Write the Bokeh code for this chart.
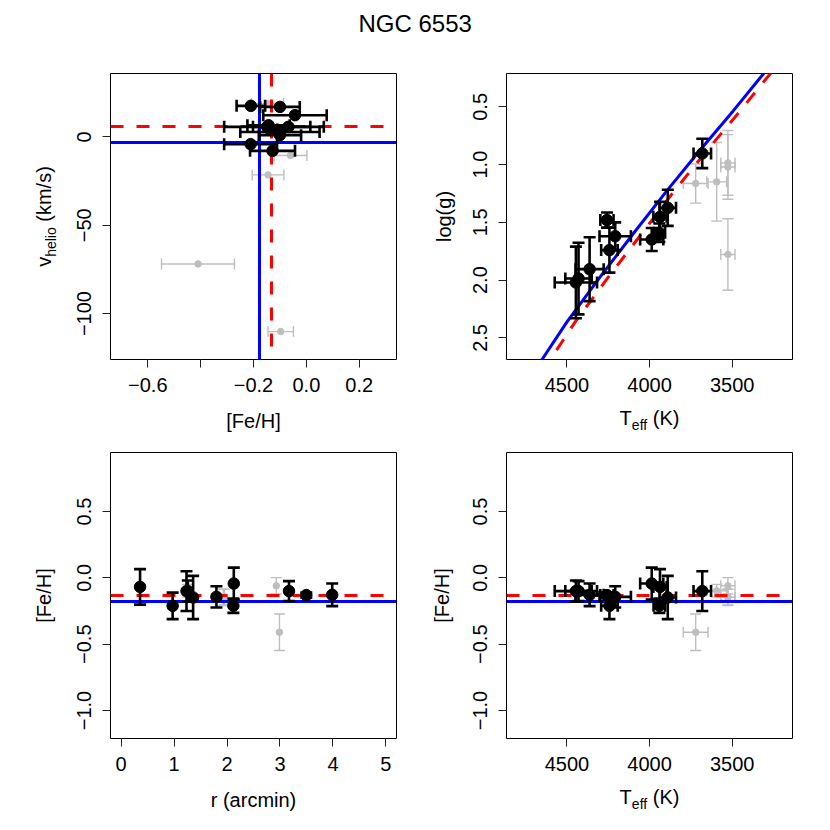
import math
from bokeh.plotting import figure
from bokeh.models import Range1d, FixedTicker, Label
from bokeh.layouts import column, row
from bokeh.embed import file_html
from bokeh.resources import INLINE

# ---------------- data ----------------
title_text = "NGC 6553"

# cluster members (black)
mem_teff = [3681, 3890, 3937, 3941, 3987, 4258, 4208, 4243, 4363, 4430, 4446]
mem_teff_err = [53, 50, 40, 35, 70, 40, 95, 50, 85, 80, 128]
mem_logg = [0.903, 1.374, 1.452, 1.59, 1.648, 1.48, 1.62, 1.74, 1.905, 1.986, 2.02]
mem_logg_err = [0.127, 0.156, 0.13, 0.08, 0.10, 0.065, 0.12, 0.195, 0.277, 0.31, 0.31]
mem_feh = [-0.10, -0.148, -0.068, -0.21, -0.043, -0.13, -0.143, -0.211, -0.128, -0.10, -0.10]
mem_feh_err = [0.15, 0.163, 0.134, 0.054, 0.12, 0.02, 0.08, 0.10, 0.085, 0.075, 0.08]
mem_vhelio = [2.8, 5.7, 5.7, 17.6, 12.3, 4.2, 6.6, -4.1, -7.9, 17.0, 1.0]
mem_r = [1.235, 1.36, 0.358, 2.12, 2.128, 3.497, 1.80, 0.973, 3.986, 3.17, 1.26]

# non-members (grey)
non_teff = [3721, 3526, 3526, 3594, 3526]
non_teff_err = [75, 43, 43, 60, 43]
non_logg = [1.163, 0.985, 1.02, 1.149, 1.778]
non_logg_err = [0.17, 0.28, 0.28, 0.34, 0.31]
non_feh = [-0.41, -0.06, -0.145, -0.097, -0.147]
non_feh_err = [0.138, 0.062, 0.06, 0.048, 0.061]
non_vhelio = [-71.9, -10.5, -21.5, -110.2, 18.9]
non_r = [2.99, 2.93, 1.95, 1.25, 1.93]

# isochrones
iso_blue_teff = [4700, 4651, 4500, 4299, 4098, 3896, 3695, 3494, 3313, 3250]
iso_blue_logg = [2.793, 2.687, 2.361, 1.972, 1.596, 1.227, 0.875, 0.535, 0.217, 0.106]
iso_red_teff = [4650, 4601, 4450, 4249, 4047, 3850, 3651, 3452, 3272, 3210]
iso_red_logg = [2.793, 2.687, 2.361, 1.972, 1.596, 1.227, 0.875, 0.535, 0.217, 0.107]

# reference values
feh_blue = -0.179
feh_red = -0.133
vhelio_blue = -3.2
vhelio_red = 5.7

# axis ticks
tl_xticks = [-0.6, -0.4, -0.2, 0.0, 0.2]
tl_xlabels = ["\u22120.6", "", "\u22120.2", "0.0", "0.2"]
tl_yticks = [0, -50, -100]
tl_ylabels = ["0", "\u221250", "\u2212100"]
teff_ticks = [4500, 4000, 3500]
teff_labels = ["4500", "4000", "3500"]
logg_ticks = [0.5, 1.0, 1.5, 2.0, 2.5]
logg_labels = ["0.5", "1.0", "1.5", "2.0", "2.5"]
r_ticks = [0, 1, 2, 3, 4, 5]
r_labels = ["0", "1", "2", "3", "4", "5"]
feh_ticks = [0.5, 0.0, -0.5, -1.0]
feh_labels = ["0.5", "0.0", "\u22120.5", "\u22121.0"]

# ---------------- style ----------------
FONT = "Liberation Sans"
FW = 286
FH = 286
GREY = "#BEBEBE"
BLUE = "#0000FF"
RED = "#FF0000"

AW = {"v": 500, "h": 556, "e": 556, "l": 222, "i": 222, "o": 556, " ": 278,
      "(": 333, ")": 333, "k": 500, "m": 833, "/": 278, "s": 500, "T": 611,
      "f": 278, "K": 667, "g": 556, "[": 278, "]": 278, "F": 611, "H": 722,
      "r": 333, "a": 556, "c": 500, "n": 556, "N": 722, "G": 778, "C": 722}
BASE_CORR = 0.34   # baseline -> middle of capitals (fraction of font size)


def tw(t, size):
    return sum(AW.get(c, 556) for c in t) * size / 1000.0


def strip(w, h, yh=None):
    # yh: height of the data frame (a strip sitting in a row of panels gets its
    # frame aligned with the panel frames)
    s = figure(width=w, height=h, x_range=Range1d(0, w),
               y_range=Range1d(0, yh if yh is not None else h),
               output_backend="svg", toolbar_location=None, min_border=0,
               x_axis_location=None, y_axis_location=None)
    s.grid.visible = False
    s.outline_line_color = None
    s.background_fill_color = "white"
    s.border_fill_color = "white"
    return s


def comp_text(s, pieces, c, base, vertical):
    """pieces: (text, size px, baseline shift px); c = centre along the text,
    base = baseline position across the text (strip pixels)."""
    total = sum(tw(t, z) for t, z, _ in pieces)
    pos = -total / 2.0
    for t, z, shift in pieces:
        lead = len(t) - len(t.lstrip(" "))
        pos += lead * 0.278 * z
        tt = t.lstrip(" ")
        w = tw(tt, z)
        mid = pos + w / 2.0
        corr = BASE_CORR * z
        if vertical:
            x, y, ang = base - shift - corr, c + mid, math.pi / 2
        else:
            x, y, ang = c + mid, base + shift + corr, 0
        s.add_layout(Label(x=x, y=y, text=tt, angle=ang, text_align="center",
                           text_baseline="middle", text_font=FONT,
                           text_font_size=f"{z}px", text_color="black"))
        pos += w


def make_panel(xr, yr, xt, xl, yt, yl, left, right, top, bottom):
    p = figure(width=left + FW + right, height=top + FH + bottom,
               x_range=Range1d(*xr), y_range=Range1d(*yr),
               output_backend="svg", toolbar_location=None,
               min_border_left=left, min_border_right=right,
               min_border_top=top, min_border_bottom=bottom)
    p.grid.visible = False
    p.outline_line_color = "black"
    p.outline_line_width = 1
    p.background_fill_color = "white"
    p.border_fill_color = "white"
    p.xaxis.ticker = FixedTicker(ticks=xt)
    p.xaxis.major_label_overrides = {t: l for t, l in zip(xt, xl)}
    p.yaxis.ticker = FixedTicker(ticks=yt)
    p.yaxis.major_label_overrides = {t: l for t, l in zip(yt, yl)}
    for ax in (p.xaxis, p.yaxis):
        ax.axis_line_color = None
        ax.major_tick_out = 8
        ax.major_tick_in = 0
        ax.minor_tick_out = 0
        ax.minor_tick_in = 0
        ax.major_tick_line_color = "#222222"
        ax.major_label_text_font = FONT
        ax.major_label_text_font_size = "20px"
        ax.major_label_text_color = "black"
    p.xaxis.major_label_standoff = 10
    p.yaxis.major_label_standoff = 11
    p.yaxis.major_label_orientation = "vertical"
    return p


def errbars(p, x, y, xerr, yerr, color, lw, cap):
    if xerr is not None:
        x0 = [a - e for a, e in zip(x, xerr)]
        x1 = [a + e for a, e in zip(x, xerr)]
        p.segment(x0=x0, y0=y, x1=x1, y1=y, line_color=color, line_width=lw)
        p.scatter(x=x0 + x1, y=list(y) + list(y), marker="dash", size=cap,
                  angle=math.pi / 2, line_color=color, line_width=lw)
    if yerr is not None:
        y0 = [a - e for a, e in zip(y, yerr)]
        y1 = [a + e for a, e in zip(y, yerr)]
        p.segment(x0=x, y0=y0, x1=x, y1=y1, line_color=color, line_width=lw)
        p.scatter(x=list(x) + list(x), y=y0 + y1, marker="dash", size=cap,
                  line_color=color, line_width=lw)


def nonmem(p, x, y, xerr, yerr):
    errbars(p, x, y, xerr, yerr, GREY, 1.4, 11)
    p.scatter(x=x, y=y, size=6.5, fill_color=GREY, line_color=GREY)


def members(p, x, y, xerr, yerr):
    errbars(p, x, y, xerr, yerr, "black", 2.6, 12)
    p.scatter(x=x, y=y, size=11.5, fill_color="black", line_color="black")


TL_X = (-0.741, 0.341)
TL_Y = (-126.0, 35.9)
TE_X = (4866, 3135)
LG_Y = (2.687, 0.211)
R_X = (-0.2, 5.2)
FE_Y = (-1.211, 0.945)

# geometry (page pixels)
TITLE_H = 48
TOP_T, TOP_B = 25, 45          # top row figures: 48..404
XS1_H = 36                     # x-title strip 404..440
BOT_T, BOT_B = 12, 45          # bottom row figures: 440..783
XS2_H = 47                     # x-title strip 783..830
YS_L_W = 64                    # left y-title strip 0..64
L_LEFT, L_RIGHT = 46, 19       # left panels 64..415 (frame 110..396)
YS_R_W = 45                    # right y-title strip 415..460
R_LEFT, R_RIGHT = 46, 38       # right panels 460..830 (frame 506..792)
TOP_H = TOP_T + FH + TOP_B
BOT_H = BOT_T + FH + BOT_B

# ---------------- top-left ----------------
p1 = make_panel(TL_X, TL_Y, tl_xticks, tl_xlabels, tl_yticks, tl_ylabels,
                L_LEFT, L_RIGHT, TOP_T, TOP_B)
nonmem(p1, non_feh, non_vhelio, non_feh_err, None)
p1.vspan(x=[feh_blue], line_color=BLUE, line_width=3)
p1.hspan(y=[vhelio_blue], line_color=BLUE, line_width=3)
p1.vspan(x=[feh_red], line_color=RED, line_width=3, line_dash="13 13")
p1.hspan(y=[vhelio_red], line_color=RED, line_width=3, line_dash="13 13")
members(p1, mem_feh, mem_vhelio, mem_feh_err, None)

# ---------------- top-right ----------------
p2 = make_panel(TE_X, LG_Y, teff_ticks, teff_labels, logg_ticks, logg_labels,
                R_LEFT, R_RIGHT, TOP_T, TOP_B)
nonmem(p2, non_teff, non_logg, non_teff_err, non_logg_err)
p2.line(iso_blue_teff, iso_blue_logg, line_color=BLUE, line_width=3)
p2.line(iso_red_teff, iso_red_logg, line_color=RED, line_width=3, line_dash="13 13")
members(p2, mem_teff, mem_logg, mem_teff_err, mem_logg_err)

# ---------------- bottom-left ----------------
p3 = make_panel(R_X, FE_Y, r_ticks, r_labels, feh_ticks, feh_labels,
                L_LEFT, L_RIGHT, BOT_T, BOT_B)
nonmem(p3, non_r, non_feh, None, non_feh_err)
p3.hspan(y=[feh_blue], line_color=BLUE, line_width=3)
p3.hspan(y=[feh_red], line_color=RED, line_width=3, line_dash="13 13")
members(p3, mem_r, mem_feh, None, mem_feh_err)

# ---------------- bottom-right ----------------
p4 = make_panel(TE_X, FE_Y, teff_ticks, teff_labels, feh_ticks, feh_labels,
                R_LEFT, R_RIGHT, BOT_T, BOT_B)
nonmem(p4, non_teff, non_feh, non_teff_err, non_feh_err)
p4.hspan(y=[feh_blue], line_color=BLUE, line_width=3)
p4.hspan(y=[feh_red], line_color=RED, line_width=3, line_dash="13 13")
members(p4, mem_teff, mem_feh, mem_teff_err, mem_feh_err)

# ---------------- text strips ----------------
TEFF_T = [("T", 20, 0), ("eff", 14, -5), (" (K)", 20, 0)]
VH_T = [("v", 20, 0), ("helio", 14, -5), (" (km/s)", 20, 0)]

pt = strip(830, TITLE_H)
comp_text(pt, [(title_text, 24, 0)], 414.7, TITLE_H - 31.0, False)

yl1 = strip(YS_L_W, TOP_H, FH)
comp_text(yl1, VH_T, FH / 2.0, 50, True)
yr1 = strip(YS_R_W, TOP_H, FH)
comp_text(yr1, [("log(g)", 20, 0)], FH / 2.0, 35, True)

xs1 = strip(830, XS1_H)
comp_text(xs1, [("[Fe/H]", 20, 0)], 253, XS1_H - (427.5 - 404), False)
comp_text(xs1, TEFF_T, 649, XS1_H - (424.5 - 404), False)

yl2 = strip(YS_L_W, BOT_H, FH)
comp_text(yl2, [("[Fe/H]", 20, 0)], FH / 2.0, 50, True)
yr2 = strip(YS_R_W, BOT_H, FH)
comp_text(yr2, [("[Fe/H]", 20, 0)], FH / 2.0, 33, True)

xs2 = strip(830, XS2_H)
comp_text(xs2, [("r (arcmin)", 20, 0)], 253, XS2_H - (806.5 - 783), False)
comp_text(xs2, TEFF_T, 649, XS2_H - (803.5 - 783), False)

layout = column(pt,
                row(yl1, p1, yr1, p2),
                xs1,
                row(yl2, p3, yr2, p4),
                xs2)
open("out.html", "w").write(file_html(layout, INLINE))
